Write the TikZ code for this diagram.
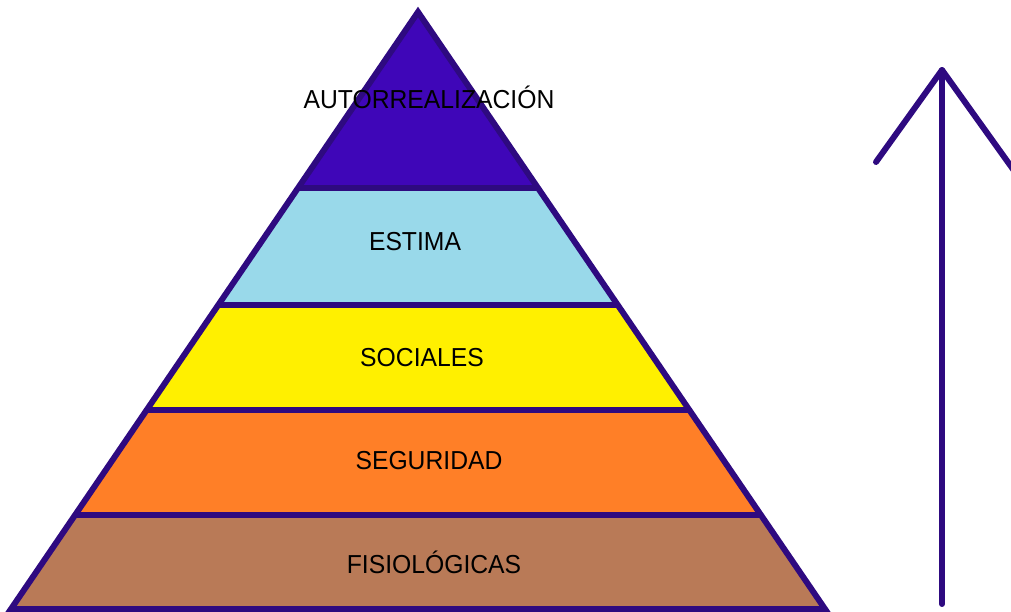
\documentclass[tikz,border=0pt]{standalone}
\usepackage{fontspec}
\setmainfont{Liberation Sans}
\usetikzlibrary{calc}
\definecolor{contorno}{RGB}{46,10,128}
\definecolor{autorreal}{RGB}{63,6,184}
\definecolor{estima}{RGB}{153,217,234}
\definecolor{sociales}{RGB}{255,240,0}
\definecolor{seguridad}{RGB}{255,127,39}
\definecolor{fisiologicas}{RGB}{185,122,87}
\begin{document}
\begin{tikzpicture}[x=0.02cm,y=-0.02cm,borde/.style={contorno,line width=3.4pt},etiqueta/.style={font=\fontsize{14.8}{17}\selectfont,xscale=0.95}]
        \useasboundingbox (0,0) rectangle (1011,612);
        \clip (0,0) rectangle (1011,612);
        \coordinate (cima) at (418,12);
        \coordinate (izq) at (11,609);
        \coordinate (der) at (825,609);
        \foreach \a/\b/\c in {0/0.2948/autorreal,0.2948/0.4908/estima,0.4908/0.6667/sociales,0.6667/0.8425/seguridad,0.8425/1/fisiologicas}
        \fill[\c]($(cima)!\a!(izq)$)--($(cima)!\b!(izq)$)--($(cima)!\b!(der)$)--($(cima)!\a!(der)$)--cycle;
        \foreach \b in {0.2948,0.4908,0.6667,0.8425}
        \draw[borde]($(cima)!\b!(izq)$)--($(cima)!\b!(der)$);
        \draw[borde](cima)--(izq)--(der)--cycle;
        \node[etiqueta](autorrealizacion) at (429,97){AUTORREALIZACIÓN};
        \node[etiqueta](estimatxt) at (415,242){ESTIMA};
        \node[etiqueta](socialestxt) at (422,358){SOCIALES};
        \node[etiqueta](seguridadtxt) at (429,461){SEGURIDAD};
        \node[etiqueta](fisiologicastxt) at (434,562){FISIOLÓGICAS};
        \coordinate (flechabajo) at (942,604);
        \coordinate (flechapunta) at (942,70);
        \draw[borde,line cap=round](flechabajo)--(flechapunta);
        \draw[borde,line cap=round,line join=round](876,162)--(flechapunta)--(1020,179);
    \end{tikzpicture}
\end{document}
